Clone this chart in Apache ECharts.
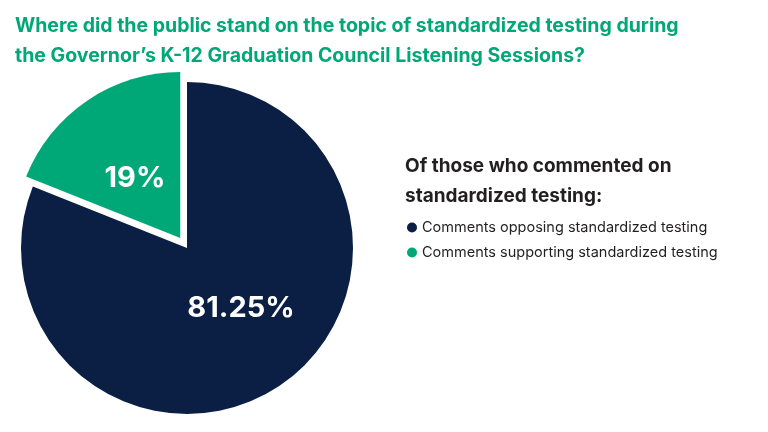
<!DOCTYPE html><html><head><meta charset="utf-8"><script src="https://cdn.jsdelivr.net/npm/echarts@6/dist/echarts.min.js"></script>
<style>html,body{margin:0;padding:0;background:#fff}#c{width:768px;height:432px}</style></head><body><div id="c"></div><script>
const categories=["Comments opposing standardized testing","Comments supporting standardized testing"];
const values=[81.25,19];
const labels=["81.25%","19%"];
const colors=["#0b1f44","#00a878"];
const chart=echarts.init(document.getElementById('c'));
chart.setOption({
 animation:false,
 title:[{text:"Where did the public stand on the topic of standardized testing during\nthe Governor’s K-12 Graduation Council Listening Sessions?",left:10,top:6,textStyle:{color:"#00a878",fontFamily:"Inter",fontWeight:"bold",fontSize:19.5,lineHeight:30}},
 {text:"Of those who commented on\nstandardized testing:",left:400,top:146,textStyle:{color:"#231f20",fontFamily:"Inter",fontWeight:"bold",fontSize:19,lineHeight:30}},
 {text:"81.25%",left:236,top:303,textAlign:"center",textVerticalAlign:"middle",textStyle:{color:"#fff",fontFamily:"Inter",fontWeight:"bold",fontSize:29}},
 {text:"19%",left:130,top:173,textAlign:"center",textVerticalAlign:"middle",textStyle:{color:"#fff",fontFamily:"Inter",fontWeight:"bold",fontSize:29}}],
 legend:{orient:"vertical",left:402,top:215,itemGap:10,icon:"circle",itemWidth:10,itemHeight:10,textStyle:{fontFamily:"Inter",fontSize:14.5,color:"#231f20"},data:categories},
 series:[{type:"pie",center:[187,248],radius:[0,166],startAngle:90,clockwise:true,selectedMode:"single",selectedOffset:12,
  label:{show:false},
  labelLine:{show:false},
  data:categories.map((n,i)=>({name:n,value:values[i],selected:i===1,itemStyle:{color:colors[i]}}))}]
});
</script></body></html>
